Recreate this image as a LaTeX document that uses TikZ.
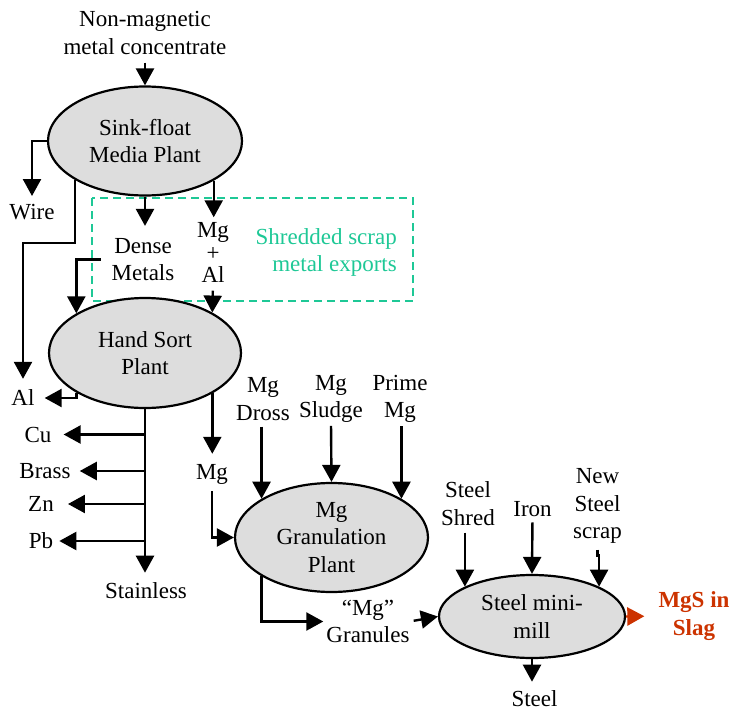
\documentclass[tikz,border=0pt]{standalone}
\usepackage{fontspec}
\setmainfont{Liberation Serif}
\usetikzlibrary{arrows.meta,shapes.geometric}
\definecolor{exportgreen}{RGB}{30,200,150}
\definecolor{slagred}{RGB}{204,51,0}
\definecolor{plantgray}{RGB}{221,221,221}
\begin{document}
\begin{tikzpicture}[x=1pt,y=-1pt,
  every node/.style={font=\fontsize{23}{27.5}\selectfont, inner sep=0pt},
  plant/.style={ellipse, draw, line width=2.2pt, fill=plantgray, align=center},
  lbl/.style={align=center},
  flow/.style={line width=2.4pt, -{Triangle[length=17pt,width=18pt]}},
  exportbox/.style={draw=exportgreen, line width=1.6pt, dash pattern=on 8pt off 5pt},
]
\useasboundingbox (0,0) rectangle (732,712);

% dashed frame around the exported streams
\draw[exportbox] (92,198) rectangle (413,301);

% plants
\node[plant, minimum width=194pt, minimum height=109pt] (sink) at (145,141) {Sink-float\\Media Plant};
\node[plant, minimum width=192pt, minimum height=110pt] (hand) at (145,353) {Hand Sort\\Plant};
\node[plant, minimum width=193pt, minimum height=109pt] (gran) at (331.5,537.5) {Mg\\Granulation\\Plant};
\node[plant, minimum width=186pt, minimum height=83pt] (mill) at (532,616.5) {Steel mini-\\mill};

% material labels
\node[lbl] (src) at (145,33) {Non-magnetic\\metal concentrate};
\node (wire) at (32,212) {Wire};
\node[lbl] (dense) at (143,259.5) {Dense\\Metals};
\node[lbl, font=\fontsize{23}{22.5}\selectfont] (mgal) at (213,252.5) {Mg\\+\\Al};
\node[align=right, anchor=east, text=exportgreen] (exports) at (397,252.5) {Shredded scrap\\metal exports};
\node (al) at (23,398) {Al};
\node (cu) at (38,434.5) {Cu};
\node (brass) at (45,471) {Brass};
\node (zn) at (41,504) {Zn};
\node (pb) at (41,541) {Pb};
\node (stainless) at (146,591) {Stainless};
\node (mg) at (212,474) {Mg};
\node[lbl] (dross) at (263,399) {Mg\\Dross};
\node[lbl] (sludge) at (331,399) {Mg\\Sludge};
\node[lbl] (prime) at (400,399) {Prime\\Mg};
\node[lbl] (granules) at (368,621.5) {“Mg”\\Granules};
\node[lbl] (shred) at (468,503.5) {Steel\\Shred};
\node (iron) at (532.5,509.5) {Iron};
\node[lbl] (newscrap) at (597.5,506) {New\\Steel\\scrap};
\node[lbl, text=slagred, font=\fontsize{23}{27.5}\selectfont\bfseries] (slag) at (694,616) {MgS in\\Slag};
\node (steel) at (534.5,699) {Steel};

% flows
\draw[flow, shorten <=8pt] (src.south) -- (sink.north);
\draw[flow, shorten >=8pt] (sink.west) -| (wire.north);
\draw[flow, shorten >=11pt] (sink.209) -- (sink.209 |- 0,243) -| (al.north);
\draw[flow, shorten >=12pt] (sink.south) -- (sink.south |- dense.north);
\draw[flow, shorten <=11pt] (dense.west) -| (hand.150);
\draw[flow, shorten >=5pt] (sink.330) -- (sink.330 |- mgal.north);
\draw[flow, shorten <=8pt] (mgal.south) -- (hand.31);
\draw[flow, shorten >=10pt] (hand.210) |- (al.east);
\draw[flow, shorten >=10pt] (hand.south) -- (hand.south |- stainless.north);
\draw[flow, shorten >=12pt] (hand.south |- cu.east) -- (cu.east);
\draw[flow, shorten >=9pt] (hand.south |- brass.east) -- (brass.east);
\draw[flow, shorten >=14pt] (hand.south |- zn.east) -- (zn.east);
\draw[flow, shorten >=6pt] (hand.south |- pb.east) -- (pb.east);
\draw[flow, shorten >=10pt] (hand.329) -- (hand.329 |- mg.north);
\draw[flow, shorten <=7pt] (mg.south) |- (gran.west);
\draw[flow, shorten <=6pt] (gran.151 |- dross.south) -- (gran.151);
\draw[flow, shorten <=3pt] (sludge.south) -- (gran.north);
\draw[flow, shorten <=3pt] (gran.29 |- prime.south) -- (gran.29);
\draw[flow, shorten >=3pt] (gran.209) |- (granules.west);
\draw[flow, shorten <=4pt] (granules.east) -- (mill.west);
\draw[flow, shorten <=7pt] (mill.156 |- shred.south) -- (mill.156);
\draw[flow, shorten <=5pt] (iron.south) -- (mill.north);
\draw[flow, shorten <=6pt] (newscrap.south) -- ++(0,12) -| (mill.24);
\draw[flow, draw=slagred, shorten >=14pt] (mill.east) -- (slag.west);
\draw[flow, shorten >=9pt] (mill.south) -- (mill.south |- steel.north);
\end{tikzpicture}
\end{document}
